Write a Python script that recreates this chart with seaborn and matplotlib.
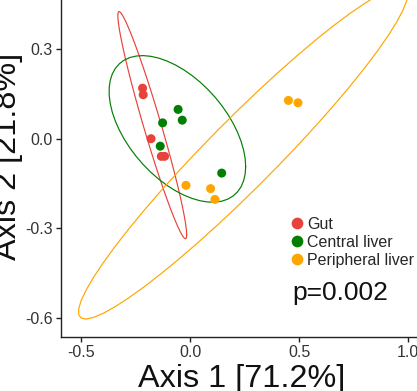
import numpy as np
import pandas as pd
import matplotlib
matplotlib.use("Agg")
import matplotlib.pyplot as plt
import seaborn as sns

# PCoA sample coordinates per tissue group
groups = ["Gut", "Central liver", "Peripheral liver"]
palette = ["#E8433A", "#007F00", "#FFA500"]

gut_x = [-0.219, -0.216, -0.180, -0.133, -0.118]
gut_y = [0.169, 0.147, 0.000, -0.059, -0.059]
central_x = [-0.056, -0.037, -0.127, -0.138, 0.144]
central_y = [0.098, 0.062, 0.053, -0.025, -0.115]
peripheral_x = [-0.020, 0.093, 0.113, 0.450, 0.494]
peripheral_y = [-0.156, -0.167, -0.203, 0.128, 0.120]

x_ticks = [-0.5, 0.0, 0.5, 1.0]
y_ticks = [-0.6, -0.3, 0.0, 0.3]
x_title = "Axis 1 [71.2%]"
y_title = "Axis 2 [21.8%]"
p_label = "p=0.002"

df = pd.DataFrame({
    "Axis1": gut_x + central_x + peripheral_x,
    "Axis2": gut_y + central_y + peripheral_y,
    "group": [groups[0]] * len(gut_x) + [groups[1]] * len(central_x)
             + [groups[2]] * len(peripheral_x),
})


def cov_trob(pts, nu=5, maxit=25, tol=0.01):
    """Robust multivariate t location/scatter estimate."""
    n, p = pts.shape
    loc = pts.mean(axis=0)
    w = np.ones(n)
    X = pts - loc
    for _ in range(maxit):
        w0 = w
        X = pts - loc
        A = np.sqrt(w / w.sum())[:, None] * X
        _, d, vt = np.linalg.svd(A, full_matrices=False)
        wX = X @ vt.T @ np.diag(1.0 / d)
        Q = (wX ** 2).sum(axis=1)
        w = (nu + p) / (nu + Q)
        loc = (w[:, None] * pts).sum(axis=0) / w.sum()
        if np.all(np.abs(w - w0) < tol):
            break
    sw = np.sqrt(w)[:, None] * X
    return loc, sw.T @ sw / n


def ellipse_path(xs, ys, level=0.95, segments=51):
    pts = np.column_stack([xs, ys])
    center, shape = cov_trob(pts)
    dfn, dfd = 2, len(pts) - 1
    fq = dfd / 2.0 * ((1 - level) ** (-2.0 / dfd) - 1)  # F(2, dfd) quantile
    radius = np.sqrt(dfn * fq)
    chol = np.linalg.cholesky(shape).T
    ang = np.linspace(0, 2 * np.pi, segments + 1)
    circle = np.column_stack([np.cos(ang), np.sin(ang)])
    return center + radius * circle @ chol


sns.set_theme(style="ticks")
plt.rcParams["font.family"] = ["Liberation Sans", "DejaVu Sans"]

W, H = 417, 391
fig = plt.figure(figsize=(W / 100, H / 100), dpi=100)
# panel: left spine at x=61px, bottom spine at y=337px; extends past right/top edges
ax = fig.add_axes([61 / W, (H - 337) / H, 361 / W, 362 / H])

for g, col, xs, ys in zip(groups, palette,
                          [gut_x, central_x, peripheral_x],
                          [gut_y, central_y, peripheral_y]):
    e = ellipse_path(np.array(xs), np.array(ys))
    ax.plot(e[:, 0], e[:, 1], color=col, lw=0.85, zorder=2)

sns.scatterplot(data=df, x="Axis1", y="Axis2", hue="group", hue_order=groups,
                palette=palette, s=42, linewidth=0, ax=ax, zorder=3)

ax.set_xlim((61 - 190.3) / 218, (422 - 190.3) / 218)
ax.set_ylim((138.7 - 337) / 299, (138.7 + 25) / 299)
ax.set_xticks(x_ticks)
ax.set_yticks(y_ticks)
ax.set_xticklabels([f"{v:.1f}" for v in x_ticks])
ax.set_yticklabels([f"{v:.1f}" for v in y_ticks])
ax.set_xlabel("")
ax.set_ylabel("")
for s in ["top", "right"]:
    ax.spines[s].set_visible(False)
for s in ["left", "bottom"]:
    ax.spines[s].set_color("#222222")
    ax.spines[s].set_linewidth(1.0)
ax.tick_params(axis="both", length=3.5, width=1.0, color="#222222",
               labelsize=11.5, labelcolor="#333333", pad=2.5)

sns.move_legend(ax, loc="center left",
                bbox_to_anchor=(290.5 / W, 1 - 242.3 / H),
                bbox_transform=fig.transFigure,
                title=None, frameon=False, fontsize=11.5, markerscale=1.3,
                borderpad=0, borderaxespad=0, handlelength=0.85,
                handletextpad=0.2, labelspacing=0.2)

fig.text(241.5 / W, 1 - 387 / H, x_title, fontsize=23.3, color="#111111",
         ha="center", va="baseline")
fig.text(16 / W, 1 - 156 / H, y_title, fontsize=23.3, color="#111111",
         ha="center", va="baseline", rotation=90, rotation_mode="anchor")
fig.text(292.3 / W, 1 - 300 / H, p_label, fontsize=19, color="#111111",
         ha="left", va="baseline")

fig.savefig("out.png", dpi=100)
